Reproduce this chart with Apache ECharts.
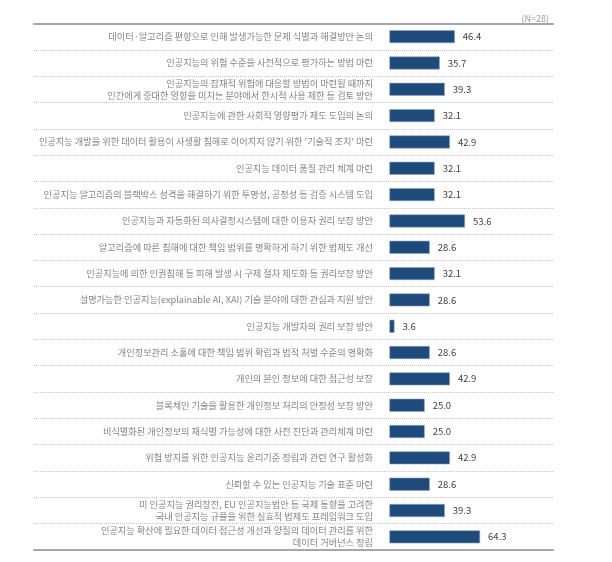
<!DOCTYPE html>
<html>
<head>
<meta charset="utf-8">
<script src="https://cdn.jsdelivr.net/npm/echarts@6/dist/echarts.min.js"></script>
<style>html,body{margin:0;padding:0;background:#fff}#c{width:612px;height:562px}</style>
</head>
<body>
<div id="c"></div>
<script>
const categories = [
  "데이터·알고리즘 편향으로 인해 발생가능한 문제 식별과 해결방안 논의",
  "인공지능의 위험 수준을 사전적으로 평가하는 방법 마련",
  "인공지능의 잠재적 위험에 대응할 방법이 마련될 때까지\n인간에게 중대한 영향을 미치는 분야에서 한시적 사용 제한 등 검토 방안",
  "인공지능에 관한 사회적 영향평가 제도 도입의 논의",
  "인공지능 개발을 위한 데이터 활용이 사생활 침해로 이어지지 않기 위한 '기술적 조치' 마련",
  "인공지능 데이터 품질 관리 체계 마련",
  "인공지능 알고리즘의 블랙박스 성격을 해결하기 위한 투명성, 공정성 등 검증 시스템 도입",
  "인공지능과 자동화된 의사결정시스템에 대한 이용자 권리 보장 방안",
  "알고리즘에 따른 침해에 대한 책임 범위를 명확하게 하기 위한 법제도 개선",
  "인공지능에 의한 인권침해 등 피해 발생 시 구제 절차 제도화 등 권리보장 방안",
  "설명가능한 인공지능(explainable AI, XAI) 기술 분야에 대한 관심과 지원 방안",
  "인공지능 개발자의 권리 보장 방안",
  "개인정보관리 소홀에 대한 책임 범위 확립과 법적 처벌 수준의 명확화",
  "개인의 본인 정보에 대한 접근성 보장",
  "블록체인 기술을 활용한 개인정보 처리의 안정성 보장 방안",
  "비식별화된 개인정보의 재식별 가능성에 대한 사전 진단과 관리체계 마련",
  "위험 방지를 위한 인공지능 윤리기준 정립과 관련 연구 활성화",
  "신뢰할 수 있는 인공지능 기술 표준 마련",
  "미 인공지능 권리장전, EU 인공지능법안 등 국제 동향을 고려한\n국내 인공지능 규율을 위한 실효적 법제도 프레임워크 도입",
  "인공지능 확산에 필요한 데이터 접근성 개선과 양질의 데이터 관리를 위한\n데이터 거버넌스 정립"
];
const values = [46.4, 35.7, 39.3, 32.1, 42.9, 32.1, 32.1, 53.6, 28.6, 32.1, 28.6, 3.6, 28.6, 42.9, 25.0, 25.0, 42.9, 28.6, 39.3, 64.3];
const note = "(N=28)";

const chart = echarts.init(document.getElementById('c'), null, {renderer: 'canvas'});
const FONT = '"Noto Sans CJK KR", "Noto Sans", sans-serif';
const xCommon = {
  type: 'value', min: -252, max: 116,
  axisLabel: {show: false}, axisTick: {show: false}, splitLine: {show: false},
  axisLine: {show: true, lineStyle: {color: '#a6a6a6', width: 2}}
};
chart.setOption({
  animation: false,
  textStyle: {fontFamily: FONT},
  title: {
    text: note, right: 58, top: 9,
    textStyle: {fontSize: 9, color: '#999', fontWeight: 'normal', fontFamily: FONT}
  },
  grid: {left: 34, right: 59, top: 23.5, bottom: 12},
  xAxis: [
    Object.assign({position: 'top'}, xCommon),
    Object.assign({position: 'bottom'}, xCommon)
  ],
  yAxis: {
    type: 'category', data: categories, inverse: true,
    offset: -347,
    axisLine: {show: false}, axisTick: {show: false},
    axisLabel: {margin: 8, fontSize: 9.2, color: '#858585', lineHeight: 12, align: 'right', fontFamily: FONT},
    splitLine: {show: true, lineStyle: {type: 'dotted', color: '#c4c4c4', width: 1}}
  },
  series: [{
    type: 'bar', data: values, xAxisIndex: 0, barWidth: 13,
    itemStyle: {color: '#1e4a7c', borderColor: '#8fa5bd', borderWidth: 0.6},
    label: {
      show: true, position: 'right', distance: 8, fontSize: 9.5, color: '#404040',
      fontFamily: FONT, formatter: p => p.value.toFixed(1)
    }
  }]
});
</script>
</body>
</html>
